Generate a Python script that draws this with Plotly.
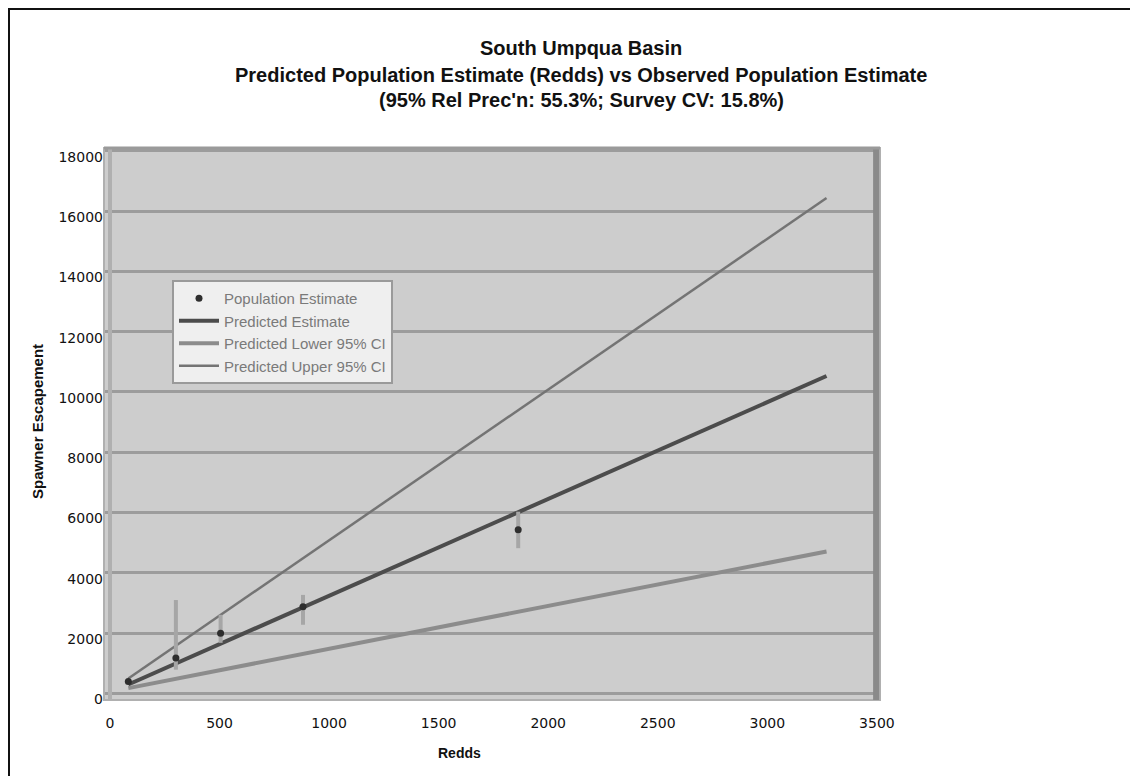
import plotly.graph_objects as go

# Observed population estimates (with survey error bars)
redds = [84, 301, 505, 881, 1863]
pop_est = [400, 1180, 2000, 2880, 5430]
err_top = [500, 3100, 2610, 3270, 6030]
err_bottom = [330, 790, 1680, 2280, 4820]

# Predicted lines
line_redds = [84, 3270]
pred_est = [300, 10530]
pred_lower = [180, 4710]
pred_upper = [500, 16430]

x_ticks = [0, 500, 1000, 1500, 2000, 2500, 3000, 3500]
y_ticks = [0, 2000, 4000, 6000, 8000, 10000, 12000, 14000, 16000, 18000]

err_plus = [t - v for t, v in zip(err_top, pop_est)]
err_minus = [v - b for v, b in zip(pop_est, err_bottom)]

OFF = 8  # page body margin
W, H = 1130, 768
L, R, T, B = 104 - OFF, 880 - OFF, 148 - OFF, 700 - OFF


def px_x(p):  # p: page pixel in reference
    return (p - OFF - L) / (R - L)


def px_y(p):
    return (B - (p - OFF)) / (B - T)


fig = go.Figure()
fig.add_trace(go.Scatter(x=line_redds, y=pred_est, mode="lines", name="Predicted Estimate",
                         line=dict(color="#4c4c4c", width=4), legendrank=2))
fig.add_trace(go.Scatter(x=line_redds, y=pred_lower, mode="lines", name="Predicted Lower 95% CI",
                         line=dict(color="#8c8c8c", width=4), legendrank=3))
fig.add_trace(go.Scatter(x=line_redds, y=pred_upper, mode="lines", name="Predicted Upper 95% CI",
                         line=dict(color="#747474", width=2.5), legendrank=4))
fig.add_trace(go.Scatter(
    x=redds, y=pop_est, mode="markers", name="Population Estimate", legendrank=1,
    marker=dict(color="#2e2e2e", size=7),
    error_y=dict(type="data", symmetric=False, array=err_plus, arrayminus=err_minus,
                 color="#a6a6a6", thickness=4, width=0),
))

font = "Liberation Sans, Arial, sans-serif"
title_lines = [
    ("South Umpqua Basin", 48),
    ("Predicted Population Estimate (Redds) vs Observed Population Estimate", 75),
    ("(95% Rel Prec'n: 55.3%; Survey CV: 15.8%)", 100),
]
annotations = []
for txt, yp in title_lines:
    annotations.append(dict(text="<b>%s</b>" % txt, x=px_x(581), y=px_y(yp), xref="paper", yref="paper",
                            showarrow=False, xanchor="center", yanchor="middle",
                            font=dict(family=font, size=20, color="#111")))
annotations.append(dict(text="<b>Spawner Escapement</b>", x=px_x(37), y=px_y(422), xref="paper", yref="paper",
                        showarrow=False, textangle=-90, xanchor="center", yanchor="middle",
                        font=dict(family=font, size=15, color="#111")))
annotations.append(dict(text="<b>Redds</b>", x=px_x(459), y=px_y(753), xref="paper", yref="paper",
                        showarrow=False, xanchor="center", yanchor="middle",
                        font=dict(family=font, size=14, color="#111")))

shapes = [
    # outer frame (top and left)
    dict(type="line", xref="paper", yref="paper", x0=px_x(8), x1=px_x(1145), y0=px_y(9), y1=px_y(9),
         line=dict(color="#111", width=2)),
    dict(type="line", xref="paper", yref="paper", x0=px_x(9), x1=px_x(9), y0=px_y(8), y1=px_y(780),
         line=dict(color="#111", width=2)),
    # plot area border / shadow
    dict(type="rect", xref="paper", yref="paper", x0=0, x1=1, y0=0, y1=1,
         line=dict(color="#b0b0b0", width=2)),
    dict(type="line", xref="paper", yref="paper", x0=0.995, x1=0.995, y0=0, y1=1,
         line=dict(color="#8a8a8a", width=6)),
    dict(type="line", xref="paper", yref="paper", x0=0, x1=1, y0=1, y1=1,
         line=dict(color="#9a9a9a", width=3)),
]

fig.update_layout(
    width=W, height=H,
    margin=dict(l=L, r=W - R, t=T, b=H - B, pad=0),
    paper_bgcolor="white", plot_bgcolor="#cdcdcd",
    font=dict(family=font, size=13, color="#111"),
    showlegend=True,
    legend=dict(x=px_x(172), y=px_y(280), xanchor="left", yanchor="top",
                bgcolor="#efefef", bordercolor="#9a9a9a", borderwidth=2,
                font=dict(family=font, size=15, color="#7a7a7a"), tracegroupgap=0,
                traceorder="normal", itemwidth=40),
    annotations=annotations, shapes=shapes,
)
fig.update_xaxes(range=[-27, 3514], tickvals=x_ticks, ticktext=[str(v) for v in x_ticks],
                 showgrid=False, zeroline=True, zerolinecolor="#b0b0b0", zerolinewidth=4,
                 showline=False, ticks="outside", ticklen=10, tickcolor="rgba(0,0,0,0)",
                 tickfont=dict(family="DejaVu Sans, sans-serif", size=14, color="#111"))
fig.update_yaxes(range=[-215, 18090], tickvals=y_ticks, ticktext=[str(v) for v in y_ticks],
                 showgrid=True, gridcolor="#9c9c9c", gridwidth=3, zeroline=False,
                 showline=False, ticks="", ticklabelshift=6,
                 tickfont=dict(family="DejaVu Sans, sans-serif", size=14, color="#111"))

fig.write_html("out.html")
